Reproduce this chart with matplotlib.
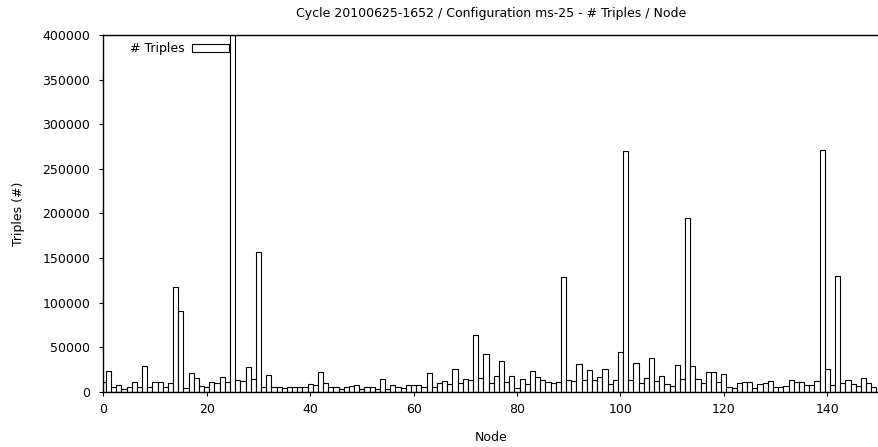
import matplotlib
matplotlib.use("Agg")
import matplotlib.pyplot as plt
import numpy as np

title = "Cycle 20100625-1652 / Configuration ms-25 - # Triples / Node"
x_label = "Node"
y_label = "Triples (#)"
series_label = "# Triples"

# Triples per node, nodes 0..149
triples = [
    10500, 23200, 5600, 7100, 3400, 4900, 10500, 5600, 28800, 5600,      # 0-9
    10500, 10500, 4900, 9700, 117000, 90500, 4500, 20600, 15000, 6000,   # 10-19
    5600, 10500, 9300, 16800, 10800, 480000, 12700, 12000, 28000, 13800, # 20-29
    157000, 4900, 18300, 4900, 5600, 4500, 5600, 5200, 4900, 5200,      # 30-39
    8200, 7100, 22000, 9300, 4900, 4900, 3000, 4900, 6000, 7100,         # 40-49
    3400, 4900, 4900, 3400, 13800, 3400, 7500, 4900, 3700, 7100,         # 50-59
    7800, 7100, 5600, 20600, 5600, 10100, 11600, 8200, 25400, 10100,     # 60-69
    13800, 12700, 63500, 15000, 42200, 9300, 18000, 34400, 10500, 17600, # 70-79
    4500, 14600, 9000, 22800, 16100, 12700, 10500, 9300, 11200, 128500,  # 80-89
    13500, 12000, 31000, 12700, 24300, 12700, 16400, 25000, 8200, 12700, # 90-99
    44100, 270000, 12700, 32500, 9300, 15000, 37400, 12000, 18000, 8200, # 100-109
    6000, 29500, 14600, 195000, 28800, 13800, 9300, 21700, 21700, 10500, # 110-119
    19400, 5600, 3700, 9300, 10500, 10500, 3700, 8200, 9300, 12300,      # 120-129
    5600, 5600, 6000, 12700, 11200, 10500, 7100, 7100, 11600, 271000,    # 130-139
    25000, 7100, 130000, 9300, 13100, 8200, 6000, 15000, 9300, 4900,     # 140-149
]
nodes = list(range(len(triples)))

x_ticks = [0, 20, 40, 60, 80, 100, 120, 140]
y_ticks = [0, 50000, 100000, 150000, 200000, 250000, 300000, 350000, 400000]

fs = 9.0
plt.rcParams['font.family'] = ['DejaVu Sans']
plt.rcParams['font.size'] = fs

fig = plt.figure(figsize=(8.79, 4.47), dpi=100)
ax = fig.add_axes([103.3 / 879, 1 - 391.7 / 447, 1 - 103.3 / 879, (391.7 - 35) / 447])

ax.bar(nodes, triples, width=1.0, color='white', edgecolor='black',
       linewidth=0.8, label=series_label, zorder=2)

ax.set_xlim(0, 150)
ax.set_ylim(0, 400000)
ax.set_xticks(x_ticks)
ax.set_yticks(y_ticks)
ax.tick_params(direction='out', length=3, width=0.8, labelsize=fs)
ax.tick_params(axis='y', pad=6.5)
ax.tick_params(axis='x', pad=5)
ax.spines['right'].set_visible(False)
for s in ['left', 'top', 'bottom']:
    ax.spines[s].set_linewidth(1.0)

ax.set_title(title, fontsize=fs, pad=13)
ax.set_xlabel(x_label, fontsize=fs, labelpad=11)
ax.set_ylabel(y_label, fontsize=fs, labelpad=12.5)

leg = ax.legend(loc='upper right', bbox_to_anchor=(0.177, 1.011), frameon=False,
                markerfirst=False, handlelength=3.0, handleheight=0.55,
                handletextpad=0.6, borderpad=0.4, fontsize=fs)

fig.savefig("out.png", dpi=100)
